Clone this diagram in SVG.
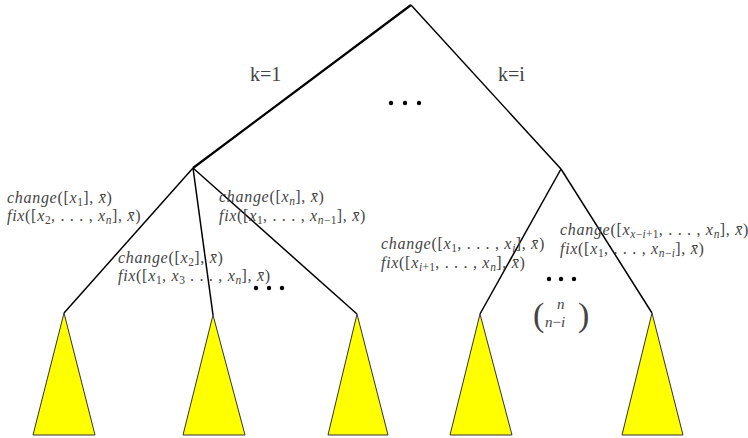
<svg xmlns="http://www.w3.org/2000/svg" width="748" height="438" viewBox="0 0 748 438">
<style>
.e{stroke:#000;stroke-width:1.5;fill:none}
.e2{stroke:#000;stroke-width:2.2;fill:none}
.tri{fill:#ffff00;stroke:#333;stroke-width:1}
.m{font-family:"Liberation Serif","DejaVu Serif",serif;font-size:16px;fill:#444;font-style:italic;letter-spacing:0.7px}
.u{font-style:normal}
.s{font-size:11.5px;letter-spacing:0.3px}
.k{font-family:"Liberation Serif","DejaVu Serif",serif;font-size:20px;fill:#444}
.b{font-family:"Liberation Serif","DejaVu Serif",serif;font-size:15px;fill:#444;font-style:italic}
.p{font-family:"Liberation Serif","DejaVu Serif",serif;font-size:34px;fill:#444}
.dot{fill:#000}
</style>
<rect width="748" height="438" fill="#fff"/>
<g id="connectors">
<line class="e2" x1="411" y1="5" x2="193" y2="168"/>
<line class="e" x1="411" y1="5" x2="561" y2="169"/>
<line class="e" x1="193" y1="168" x2="64" y2="313"/>
<line class="e" x1="193" y1="168" x2="213" y2="315"/>
<line class="e" x1="193" y1="168" x2="357" y2="314"/>
<line class="e" x1="561" y1="169" x2="480" y2="314"/>
<line class="e" x1="561" y1="169" x2="652" y2="313"/>
</g>
<g id="t1"><polygon class="tri" points="64,313 33,435 95,435"/></g>
<g id="t2"><polygon class="tri" points="213,315 183,435 245,435"/></g>
<g id="t3"><polygon class="tri" points="357,314 328,435 388,435"/></g>
<g id="t4"><polygon class="tri" points="480,314 450,435 512,435"/></g>
<g id="t5"><polygon class="tri" points="652,313 622,435 683,435"/></g>
<g id="labels">
<text class="k" x="250" y="81">k=1</text>
<text class="k" x="498" y="81">k=i</text>
<circle class="dot" cx="391" cy="103" r="2.2"/><circle class="dot" cx="405" cy="103" r="2.2"/><circle class="dot" cx="419" cy="103" r="2.2"/>
<circle class="dot" cx="256" cy="288" r="2.2"/><circle class="dot" cx="269" cy="288" r="2.2"/><circle class="dot" cx="282" cy="288" r="2.2"/>
<circle class="dot" cx="549" cy="279" r="2.2"/><circle class="dot" cx="561" cy="279" r="2.2"/><circle class="dot" cx="574" cy="279" r="2.2"/>

<text class="m" x="7" y="203">change<tspan class="u">([</tspan>x<tspan class="s u" dy="3">1</tspan><tspan class="u" dy="-3">], </tspan>x̄<tspan class="u">)</tspan></text>
<text class="m" x="7" y="221">fix<tspan class="u">([</tspan>x<tspan class="s u" dy="3">2</tspan><tspan class="u" dy="-3">, . . . , </tspan>x<tspan class="s" dy="3">n</tspan><tspan class="u" dy="-3">], </tspan>x̄<tspan class="u">)</tspan></text>

<text class="m" x="118" y="263">change<tspan class="u">([</tspan>x<tspan class="s u" dy="3">2</tspan><tspan class="u" dy="-3">], </tspan>x̄<tspan class="u">)</tspan></text>
<text class="m" x="118" y="281">fix<tspan class="u">([</tspan>x<tspan class="s u" dy="3">1</tspan><tspan class="u" dy="-3">, </tspan>x<tspan class="s u" dy="3">3</tspan><tspan class="u" dy="-3"> . . . , </tspan>x<tspan class="s" dy="3">n</tspan><tspan class="u" dy="-3">], </tspan>x̄<tspan class="u">)</tspan></text>

<text class="m" x="219" y="202">change<tspan class="u">([</tspan>x<tspan class="s" dy="3">n</tspan><tspan class="u" dy="-3">], </tspan>x̄<tspan class="u">)</tspan></text>
<text class="m" x="219" y="221">fix<tspan class="u">([</tspan>x<tspan class="s u" dy="3">1</tspan><tspan class="u" dy="-3">, . . . , </tspan>x<tspan class="s" dy="3">n<tspan class="u">−1</tspan></tspan><tspan class="u" dy="-3">], </tspan>x̄<tspan class="u">)</tspan></text>

<text class="m" x="381" y="249">change<tspan class="u">([</tspan>x<tspan class="s u" dy="3">1</tspan><tspan class="u" dy="-3">, . . . , </tspan>x<tspan class="s" dy="3">i</tspan><tspan class="u" dy="-3">], </tspan>x̄<tspan class="u">)</tspan></text>
<text class="m" x="381" y="268">fix<tspan class="u">([</tspan>x<tspan class="s" dy="3">i<tspan class="u">+1</tspan></tspan><tspan class="u" dy="-3">, . . . , </tspan>x<tspan class="s" dy="3">n</tspan><tspan class="u" dy="-3">], </tspan>x̄<tspan class="u">)</tspan></text>

<text class="m" x="560" y="235">change<tspan class="u">([</tspan>x<tspan class="s" dy="3">x<tspan class="u">−</tspan>i<tspan class="u">+1</tspan></tspan><tspan class="u" dy="-3">, . . . , </tspan>x<tspan class="s" dy="3">n</tspan><tspan class="u" dy="-3">], </tspan>x̄<tspan class="u">)</tspan></text>
<text class="m" x="560" y="254">fix<tspan class="u">([</tspan>x<tspan class="s u" dy="3">1</tspan><tspan class="u" dy="-3">, . . . , </tspan>x<tspan class="s" dy="3">n<tspan class="u">−</tspan>i</tspan><tspan class="u" dy="-3">], </tspan>x̄<tspan class="u">)</tspan></text>

<text class="p" x="533" y="326">(</text>
<text class="b" x="557" y="309">n</text>
<text class="b" x="545" y="327">n<tspan style="font-style:normal">−</tspan>i</text>
<text class="p" x="578" y="326">)</text>
</g>
</svg>
